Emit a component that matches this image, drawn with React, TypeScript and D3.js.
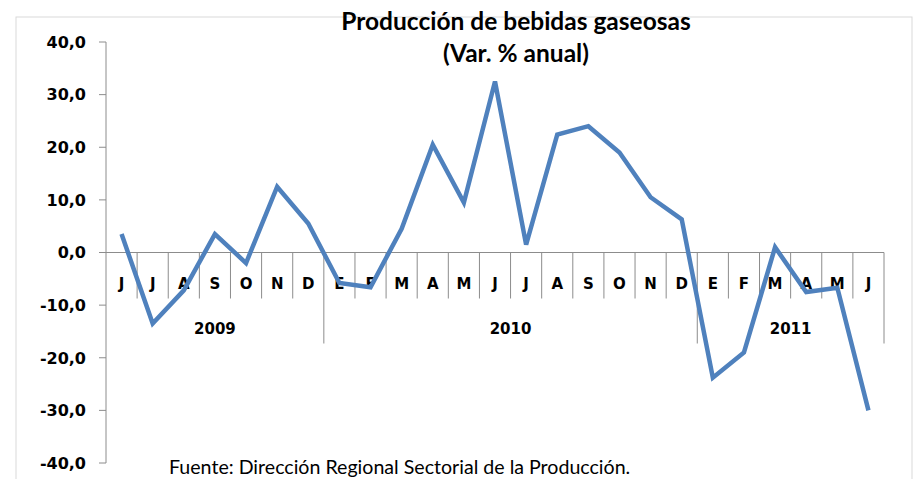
import React from 'react';
import * as d3 from 'd3';

// monthly categories, Jun 2009 .. Jun 2011
const months = ['J', 'J', 'A', 'S', 'O', 'N', 'D', 'E', 'F', 'M', 'A', 'M', 'J', 'J', 'A', 'S', 'O', 'N', 'D', 'E', 'F', 'M', 'A', 'M', 'J'];
const yearLabels = ['2009', '2010', '2011'];
const yearCounts = [7, 12, 6];
// Var. % anual
const values = [3.5, -13.5, -7.2, 3.5, -2.0, 12.5, 5.5, -5.8, -6.6, 4.5, 20.5, 9.5, 32.5, 1.5, 22.4, 24.0, 19.0, 10.5, 6.3, -23.8, -19.0, 1.0, -7.5, -6.7, -30.0];
const yTicks = [-40, -30, -20, -10, 0, 10, 20, 30, 40];

const W = 915;
const H = 479;
const left = 106;
const right = 884;
const top = 42;
const bottom = 463;

const App = () => {
  const x = d3.scaleBand<number>().domain(d3.range(months.length)).range([left, right]);
  const y = d3.scaleLinear().domain([-40, 40]).range([bottom, top]);
  const y0 = y(0);

  const line = d3
    .line<number>()
    .x((d, i) => x(i)! + x.bandwidth() / 2)
    .y(d => y(d));

  // year groups -> start index
  const starts = yearCounts.map((c, i) => d3.sum(yearCounts.slice(0, i)));
  const fmt = (v: number) => v.toFixed(1).replace('.', ',');
  const axisColor = '#8c8c8c';
  const boldFont = 'DejaVu Sans, Verdana, sans-serif';
  const textFont = 'Lato, Carlito, sans-serif';

  return (
    <svg width={W} height={H} style={{ position: 'absolute', left: 0, top: 0, background: '#fff' }}>
      {/* outer frame */}
      <rect x={16} y={17} width={896} height={470} fill="none" stroke="#d9d9d9" strokeWidth={1} />

      {/* title */}
      <text x={516} y={30} textAnchor="middle" fontFamily={textFont} fontWeight="bold" fontSize={24.5}>
        Producción de bebidas gaseosas
      </text>
      <text x={516} y={62} textAnchor="middle" fontFamily={textFont} fontWeight="bold" fontSize={24.5}>
        (Var. % anual)
      </text>

      {/* y axis */}
      <line x1={left} x2={left} y1={top} y2={bottom} stroke={axisColor} />
      {yTicks.map(t => (
        <g key={t}>
          <line x1={left - 7} x2={left} y1={y(t)} y2={y(t)} stroke={axisColor} />
          <text x={86} y={y(t)} dy="0.36em" textAnchor="end" fontFamily={boldFont} fontWeight="bold" fontSize={16}>
            {fmt(t)}
          </text>
        </g>
      ))}

      {/* category axis at zero */}
      <line x1={left} x2={right} y1={y0} y2={y0} stroke={axisColor} />
      {months.map((m, i) => {
        const xe = x(i)! + x.bandwidth();
        const isYearEnd = starts.includes(i + 1) || i === months.length - 1;
        return (
          <g key={i}>
            <line x1={xe} x2={xe} y1={y0} y2={isYearEnd ? y0 + 91 : y0 + 46} stroke={axisColor} />
            <text x={x(i)! + x.bandwidth() / 2} y={289} textAnchor="middle" fontFamily={boldFont} fontWeight="bold" fontSize={15}>
              {m}
            </text>
          </g>
        );
      })}
      {yearLabels.map((yl, k) => {
        const x1 = x(starts[k])!;
        const x2 = x(starts[k] + yearCounts[k] - 1)! + x.bandwidth();
        return (
          <text key={yl} x={(x1 + x2) / 2} y={334} textAnchor="middle" fontFamily={boldFont} fontWeight="bold" fontSize={15}>
            {yl}
          </text>
        );
      })}

      {/* series */}
      <path d={line(values)!} fill="none" stroke="#4F81BD" strokeWidth={4.5} strokeLinejoin="miter" />

      {/* source */}
      <text x={169} y={474} fontFamily={textFont} fontSize={19.6}>
        Fuente: Dirección Regional Sectorial de la Producción.
      </text>
    </svg>
  );
};

export default App;
